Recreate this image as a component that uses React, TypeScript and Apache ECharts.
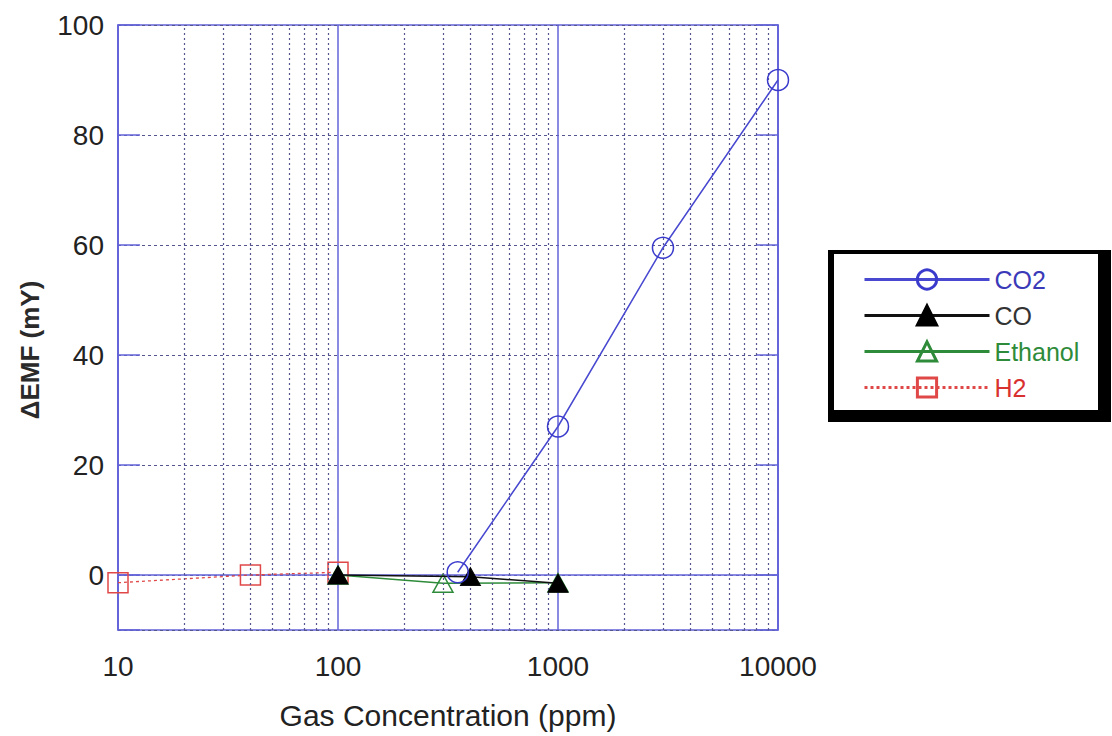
import React, { useEffect, useRef } from 'react';
import * as echarts from 'echarts';

const minorGridX = [20, 30, 40, 50, 60, 70, 80, 90, 200, 300, 400, 500, 600, 700, 800, 900, 2000, 3000, 4000, 5000, 6000, 7000, 8000, 9000];
const co2X = [350, 1000, 3000, 10000];
const co2Y = [0.5, 27, 59.5, 90];
const coX = [100, 400, 1000];
const coY = [0, -0.3, -1.5];
const ethanolX = [100, 300, 1000];
const ethanolY = [0, -1.5, -1.4];
const h2X = [10, 40, 100];
const h2Y = [-1.4, 0, 0.5];
const seriesNames = ['CO2', 'CO', 'Ethanol', 'H2'];
const legendColors = ['#3a3ab8', '#333333', '#2e8b3a', '#d93030'];

const FONT = '"Liberation Sans", Arial, Helvetica, sans-serif';
const FRAME = '#6363d8';
const GRIDC = '#55558f';

const pairs = (xs: number[], ys: number[]) => xs.map((x, i) => [x, ys[i]]);

export default function App() {
  const ref = useRef<HTMLDivElement>(null);
  useEffect(() => {
    if (!ref.current) return;
    const chart = echarts.init(ref.current, undefined, { renderer: 'svg' });
    chart.setOption({
      animation: false,
      backgroundColor: '#ffffff',
      textStyle: { fontFamily: FONT },
      grid: {
        left: 118, top: 25, right: 334, bottom: 106,
        show: true, borderColor: FRAME, borderWidth: 1.5, backgroundColor: 'transparent',
      },
      graphic: [
        { type: 'rect', z: 1, shape: { x: 828, y: 250, width: 283, height: 172 }, style: { fill: '#000' } },
        { type: 'rect', z: 2, shape: { x: 834, y: 254, width: 264, height: 156 }, style: { fill: '#fff' } },
        {
          type: 'text', z: 2, x: 30, y: 350, rotation: Math.PI / 2,
          style: { text: 'ΔEMF (mY)', font: `bold 26px ${FONT}`, fill: '#2a2a2a', align: 'center', verticalAlign: 'middle' },
        },
      ],
      legend: {
        z: 10,
        orient: 'vertical',
        left: 858,
        top: 262,
        itemWidth: 125,
        itemHeight: 24,
        itemGap: 11,
        textStyle: { fontSize: 25, fontFamily: FONT },
        lineStyle: { width: 3 },
        itemStyle: { borderWidth: 3 },
        data: seriesNames.map((n, i) => ({ name: n, textStyle: { color: legendColors[i] } })),
      },
      xAxis: {
        type: 'log', logBase: 10, min: 10, max: 10000,
        name: 'Gas Concentration (ppm)', nameLocation: 'middle', nameGap: 70,
        nameTextStyle: { fontSize: 30, color: '#222', fontFamily: FONT },
        axisLine: { show: true, lineStyle: { color: FRAME, width: 1.5 } },
        axisTick: { show: false },
        axisLabel: { fontSize: 28, color: '#222', margin: 22, fontFamily: FONT, formatter: (v: number) => String(Math.round(v)) },
        splitLine: { show: true, lineStyle: { color: FRAME, width: 1.5, type: 'solid' } },
      },
      yAxis: [
        {
          type: 'value', min: -10, max: 100, splitNumber: 5,
          axisLine: { show: true, lineStyle: { color: FRAME, width: 1.5 } },
          axisTick: { show: true, inside: true, length: 22, lineStyle: { color: FRAME, width: 1.5 } },
          axisLabel: { fontSize: 28, color: '#222', margin: 14, fontFamily: FONT, formatter: (v: number) => (v < 0 ? '' : String(v)) },
          splitLine: { show: true, lineStyle: { color: GRIDC, width: 1.2, type: [3, 3] } },
        },
        {
          type: 'value', min: -10, max: 100, splitNumber: 5, position: 'right',
          axisLine: { show: true, lineStyle: { color: FRAME, width: 1.5 } },
          axisTick: { show: true, inside: true, length: 22, lineStyle: { color: FRAME, width: 1.5 } },
          axisLabel: { show: false },
          splitLine: { show: false },
        },
      ],
      series: [
        {
          name: 'H2', type: 'line', data: pairs(h2X, h2Y), z: 3,
          symbol: 'rect', symbolSize: 20,
          lineStyle: { color: '#e04848', width: 1.3, type: [3, 3] },
          itemStyle: { color: 'transparent', borderColor: '#e04848', borderWidth: 1.5 },
          markLine: {
            silent: true, symbol: ['none', 'none'], label: { show: false }, animation: false,
            lineStyle: { color: GRIDC, width: 1.2, type: [2, 3] },
            emphasis: { disabled: true },
            data: minorGridX.map((x) => ({ xAxis: x })),
          },
        },
        {
          name: 'Ethanol', type: 'line', data: pairs(ethanolX, ethanolY), z: 4,
          symbol: 'triangle', symbolSize: [20, 18],
          lineStyle: { color: '#2e8b3a', width: 1.5 },
          itemStyle: { color: 'transparent', borderColor: '#2e8b3a', borderWidth: 1.5 },
        },
        {
          name: 'CO', type: 'line', data: pairs(coX, coY), z: 5,
          symbol: 'triangle', symbolSize: [20, 18],
          lineStyle: { color: '#111111', width: 1.5 },
          itemStyle: { color: '#000000', borderColor: '#000000', borderWidth: 1 },
        },
        {
          name: 'CO2', type: 'line', data: pairs(co2X, co2Y), z: 6,
          symbol: 'circle', symbolSize: 21,
          lineStyle: { color: '#4848d0', width: 1.5 },
          itemStyle: { color: 'transparent', borderColor: '#3a3acc', borderWidth: 1.5 },
        },
      ],
    });
    return () => chart.dispose();
  }, []);
  return <div ref={ref} style={{ width: 1112, height: 736, position: 'absolute', left: 0, top: 0 }} />;
}
